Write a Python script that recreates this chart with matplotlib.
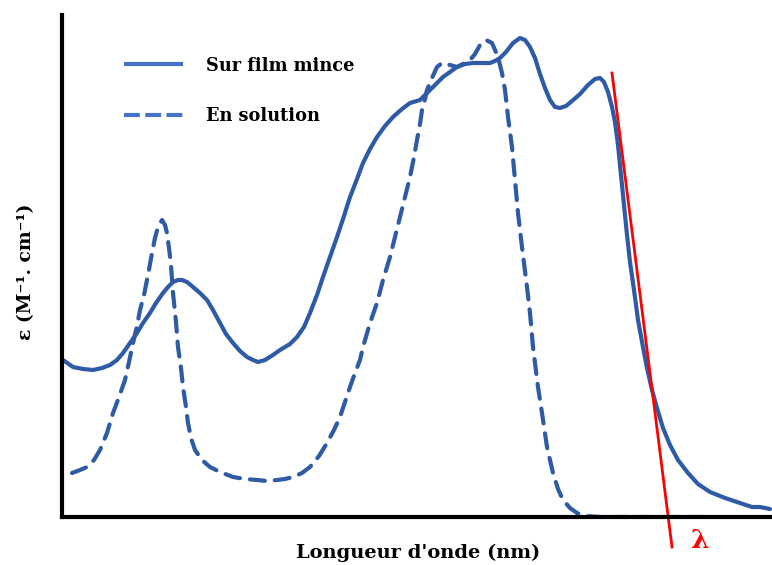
import matplotlib
matplotlib.use("Agg")
import matplotlib.pyplot as plt
from matplotlib.lines import Line2D

plt.rcParams['font.family'] = ['DejaVu Serif']

# Arbitrary units (wavelength axis left->right, absorbance up)
film_x = [1, 11, 21, 31, 40, 48, 55, 61, 68, 75, 81, 88, 94, 101, 106, 111, 116, 120, 125, 131,
          138, 145, 151, 158, 164, 171, 178, 185, 191, 196, 203, 211, 218, 228, 235, 242, 248, 255,
          261, 268, 275, 282, 288, 295, 301, 308, 315, 323, 331, 340, 348, 358, 368, 375, 381, 388,
          395, 403, 411, 420, 428, 433, 438, 444, 451, 458, 463, 468, 473, 478, 483, 488, 493, 498,
          504, 510, 518, 526, 533, 538, 542, 546, 550, 553, 556, 559, 562, 565, 568, 572, 576, 581,
          585, 590, 595, 601, 608, 616, 626, 636, 648, 663, 678, 690, 698, 708]
film_y = [157, 150, 148, 147, 149, 152, 157, 164, 174, 184, 194, 204, 214, 224, 230, 235, 237, 237,
          235, 230, 224, 217, 207, 194, 183, 174, 166, 160, 157, 155, 157, 162, 167, 173, 180, 190,
          204, 222, 240, 260, 280, 301, 320, 338, 354, 368, 380, 391, 400, 408, 414, 417, 427, 434,
          440, 445, 450, 453, 454, 454, 454, 456, 459, 465, 474, 479, 477, 470, 459, 443, 429, 417,
          410, 409, 411, 416, 423, 432, 438, 439, 435, 425, 410, 395, 372, 342, 312, 282, 255, 227,
          197, 170, 149, 127, 109, 89, 72, 57, 44, 33, 25, 19, 14, 10, 10, 8]

sol_x = [10, 18, 25, 32, 38, 45, 51, 57, 63, 67, 71, 75, 78, 82, 86, 90, 93, 96, 100, 103, 105,
         107, 109, 111, 114, 116, 119, 121, 124, 126, 129, 133, 140, 148, 158, 171, 183, 195, 205,
         215, 223, 231, 240, 248, 257, 265, 272, 278, 283, 288, 293, 298, 301, 308, 315, 321, 328,
         333, 338, 343, 348, 352, 355, 358, 360, 363, 365, 368, 370, 375, 380, 388, 395, 401, 408,
         413, 418, 424, 430, 433, 436, 440, 443, 446, 450, 453, 456, 460, 465, 468, 471, 476, 480,
         485, 491, 496, 501, 508, 515, 523, 538, 588, 641]
sol_y = [44, 47, 50, 57, 67, 84, 104, 120, 137, 155, 174, 191, 207, 222, 242, 264, 279, 290, 297,
         292, 284, 269, 252, 224, 195, 170, 149, 130, 110, 94, 79, 67, 57, 50, 45, 40, 38, 37, 36,
         37, 38, 40, 44, 50, 61, 74, 87, 100, 115, 130, 144, 157, 170, 194, 214, 237, 260, 280,
         300, 320, 340, 360, 377, 393, 407, 418, 427, 434, 439, 450, 454, 452, 450, 453, 457, 463,
         472, 477, 474, 467, 460, 444, 427, 400, 370, 337, 304, 270, 230, 204, 170, 130, 104, 70,
         44, 28, 17, 9, 4, 1, 0, 0, 0]

tangent_x = [550, 610]
tangent_y = [444, -30]

legend_labels = ["Sur film mince", "En solution"]
xlabel = "Longueur d'onde (nm)"
ylabel = "ε (M⁻¹. cm⁻¹)"

blue = '#2f5aa5'
legend_blue = '#4472c4'

fig = plt.figure(figsize=(7.72, 5.65), dpi=100)
ax = fig.add_axes([62/772, 48/565, 710/772, 502/565])
ax.set_xlim(0, 710)
ax.set_ylim(0, 502)

ax.plot(film_x, film_y, color=blue, lw=3, solid_joinstyle='round', solid_capstyle='round', zorder=2)
ax.plot(sol_x, sol_y, color=blue, lw=3, linestyle=(0, (3.6, 2.4)), dash_capstyle='round', zorder=2)
ax.plot(tangent_x, tangent_y, color='red', lw=2, clip_on=False, zorder=3)

for s in ['top', 'right']:
    ax.spines[s].set_visible(False)
for s in ['left', 'bottom']:
    ax.spines[s].set_linewidth(3)
    ax.spines[s].set_color('black')
    ax.spines[s].set_zorder(4)
ax.set_xticks([])
ax.set_yticks([])

handles = [Line2D([], [], color=legend_blue, lw=3, solid_capstyle='butt'),
           Line2D([], [], color=legend_blue, lw=3, linestyle=(0, (3.8, 1.3)), dash_capstyle='butt')]
leg = ax.legend(handles, legend_labels, loc='upper left', bbox_to_anchor=(0.065, 0.949),
                frameon=False, handlelength=3.32, handletextpad=1.3, labelspacing=1.85,
                prop={'family': 'DejaVu Serif', 'weight': 'bold', 'size': 12.8})

ax.text(638, -23, "λ", color='red', fontsize=19, fontweight='bold', ha='center', va='center',
        clip_on=False)

fig.text(418/772, 1 - 553/565, xlabel, ha='center', va='center', fontsize=14, fontweight='bold')
fig.text(26/772, 1 - 272/565, ylabel, ha='center', va='center', rotation=90, fontsize=13.5,
         fontweight='bold')

fig.savefig('out.png', dpi=100)
